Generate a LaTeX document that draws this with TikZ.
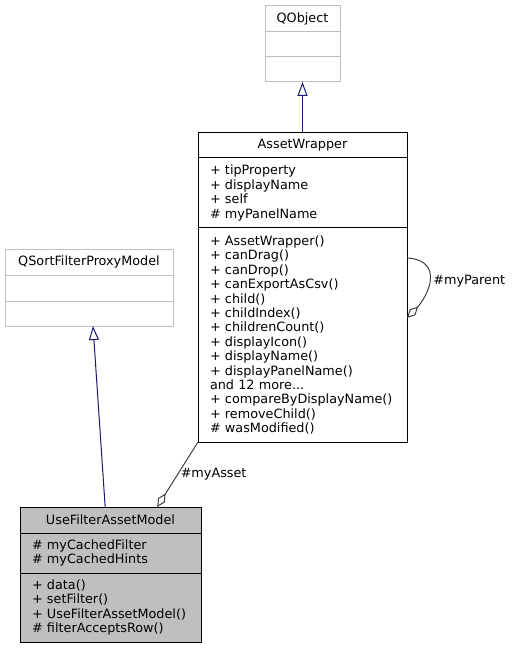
\documentclass[tikz,border=0pt]{standalone}
\usepackage{fontspec}
\setmainfont{DejaVu Sans}
\usetikzlibrary{arrows.meta,positioning,bending}
\definecolor{midblue}{HTML}{191970}
\definecolor{grey25}{HTML}{404040}
\definecolor{grey75}{HTML}{BFBFBF}

\begin{document}
\begin{tikzpicture}[x=0.75pt,y=-0.75pt,
  every node/.style={font=\fontsize{9.6}{10.8}\selectfont},
  cls/.style={draw,line width=0.75pt,outer sep=0pt,inner ysep=0pt},
  head/.style={cls,minimum width=#1,align=center,inner xsep=0pt},
  part/.style={cls,text width=#1,inner xsep=9pt,align=left},
  ext/.style={draw=grey75},
  main/.style={fill=grey75},
  inherit/.style={midblue,line width=0.75pt,-{Triangle[open,length=10.5pt,width=7.5pt]}},
  aggr/.style={grey25,line width=0.75pt,{Diamond[open,length=12pt,width=6pt]}-},
  lbl/.style={text=black,anchor=west,inner sep=2pt}]
  \useasboundingbox (0,0) rectangle (514,648);

  \node[head=56.25pt,ext,minimum height=19.5pt,anchor=north west] (qobject) at (265,6) {QObject};
  \node[part=38.25pt,ext,minimum height=18.75pt,below=0pt of qobject] (qobject-a) {};
  \node[part=38.25pt,ext,minimum height=18.75pt,below=0pt of qobject-a] (qobject-m) {};

  \node[head=126pt,ext,minimum height=19.5pt,anchor=north west] (qsfpm) at (5,249) {QSortFilterProxyModel};
  \node[part=108pt,ext,minimum height=19.5pt,below=0pt of qsfpm] (qsfpm-a) {};
  \node[part=108pt,ext,minimum height=18.75pt,below=0pt of qsfpm-a] (qsfpm-m) {};

  \node[head=156.75pt,minimum height=18.75pt,anchor=north west] (aw) at (198,133) {AssetWrapper};
  \node[part=138.75pt,minimum height=52.5pt,below=0pt of aw] (aw-a)
    {+ tipProperty\\+ displayName\\+ self\\\# myPanelName};
  \node[part=138.75pt,minimum height=160.5pt,below=0pt of aw-a] (aw-m)
    {+ AssetWrapper()\\+ canDrag()\\+ canDrop()\\+ canExportAsCsv()\\+ child()\\+ childIndex()\\+ childrenCount()\\+ displayIcon()\\+ displayName()\\+ displayPanelName()\\and 12 more...\\+ compareByDisplayName()\\+ removeChild()\\\# wasModified()};

  \node[head=135.75pt,main,minimum height=19.5pt,anchor=north west] (ufam) at (20,507) {UseFilterAssetModel};
  \node[part=117.75pt,main,minimum height=30pt,below=0pt of ufam] (ufam-a)
    {\# myCachedFilter\\\# myCachedHints};
  \node[part=117.75pt,main,minimum height=51.75pt,below=0pt of ufam-a] (ufam-m)
    {+ data()\\+ setFilter()\\+ UseFilterAssetModel()\\\# filterAcceptsRow()};

  \draw[inherit] (aw.north) -- (qobject-m.south);
  \draw[inherit] ([xshift=-4pt]ufam.north) -- ([xshift=3pt]qsfpm-m.south);
  \draw[aggr] ([xshift=35pt]ufam.north) -- (aw-m.south west)
    node[lbl,pos=0.5] (asset-lbl) {\#myAsset};
  \draw[aggr] ([yshift=12.75pt]aw-m.east) .. controls +(24,-20) and +(38,2) .. ([yshift=57.75pt]aw-m.east)
    node[lbl,pos=0.5] (parent-lbl) {\#myParent};
\end{tikzpicture}
\end{document}
